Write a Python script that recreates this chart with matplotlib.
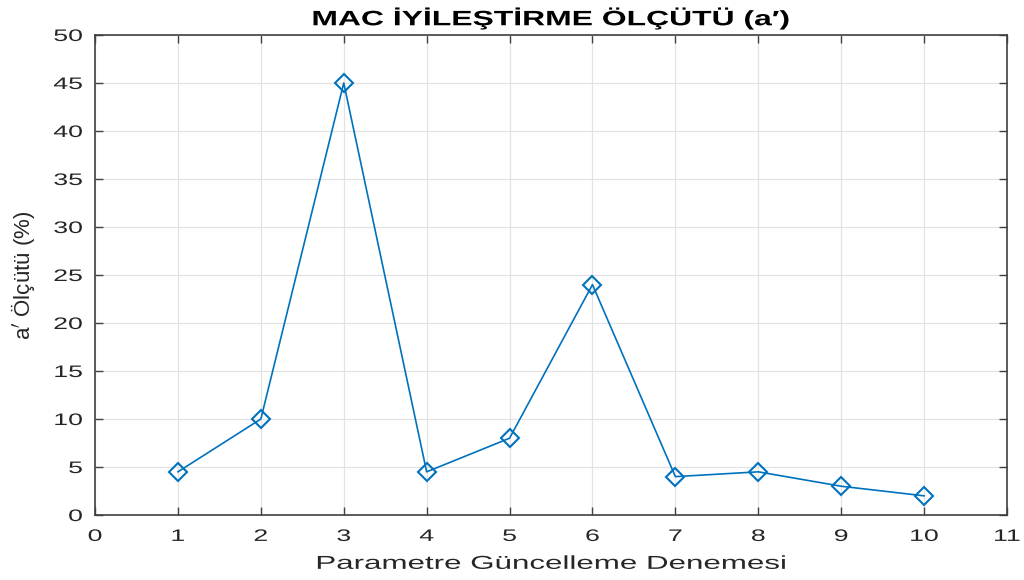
import matplotlib
matplotlib.use("Agg")
import matplotlib.pyplot as plt
from matplotlib.patheffects import AbstractPathEffect
from matplotlib.transforms import Affine2D

plt.rcParams['font.family'] = ['Liberation Sans', 'DejaVu Sans']

# deneme numaralari ve a' olcutu degerleri
deneme = [1, 2, 3, 4, 5, 6, 7, 8, 9, 10]
olcut = [4.5, 10, 45, 4.5, 8, 24, 4, 4.5, 3, 2]


class Genislet(AbstractPathEffect):
    """Yaziyi yatayda genisletir (anchor: 0 sol, 0.5 orta, 1 sag)."""

    def __init__(self, sx, anchor=0.5):
        super().__init__()
        self.sx = sx
        self.anchor = anchor

    def draw_path(self, renderer, gc, tpath, affine, rgbFace=None):
        ext = tpath.get_extents()
        x0 = ext.x0 + self.anchor * ext.width
        t = Affine2D().translate(-x0, 0).scale(self.sx, 1).translate(x0, 0)
        renderer.draw_path(gc, tpath, t + affine, rgbFace)


fig = plt.figure(figsize=(10.24, 5.8), dpi=100)
ax = fig.add_axes([0.0928, 0.112, 0.8906, 0.8277])

ax.plot(deneme, olcut, color='#0072BD', lw=1.2, marker='D', markersize=9,
        markerfacecolor='none', markeredgewidth=1.5)

ax.set_xlim(0, 11)
ax.set_ylim(0, 50)
ax.set_xticks(range(0, 12))
ax.set_yticks(range(0, 51, 5))
ax.grid(True, color='#e3e3e3', lw=0.9)
ax.set_axisbelow(True)
ax.tick_params(direction='in', top=True, right=True, length=6, width=1,
               color='#404040', labelsize=12, labelcolor='#262626')
ax.tick_params(axis='x', pad=10)
ax.tick_params(axis='y', pad=9)
for s in ax.spines.values():
    s.set_color('#404040')
    s.set_linewidth(1.2)

for lbl in ax.get_xticklabels():
    lbl.set_path_effects([Genislet(1.6, 0.5)])
for lbl in ax.get_yticklabels():
    lbl.set_path_effects([Genislet(1.6, 1.0)])

baslik = ax.set_title("MAC İYİLEŞTİRME ÖLÇÜTÜ (a′)", fontsize=15,
                      fontweight='bold', pad=7)
baslik.set_path_effects([Genislet(1.53, 0.5)])

xl = ax.set_xlabel("Parametre Güncelleme Denemesi", fontsize=13.5, color='#262626')
xl.set_path_effects([Genislet(1.67, 0.5)])
ax.xaxis.set_label_coords(0.5, -0.085)

ax.set_ylabel(r"a$^{\prime}$ Ölçütü (%)", fontsize=16, color='#262626')
ax.yaxis.set_label_coords(-0.064, 0.5)

fig.savefig("out.png", dpi=100)
